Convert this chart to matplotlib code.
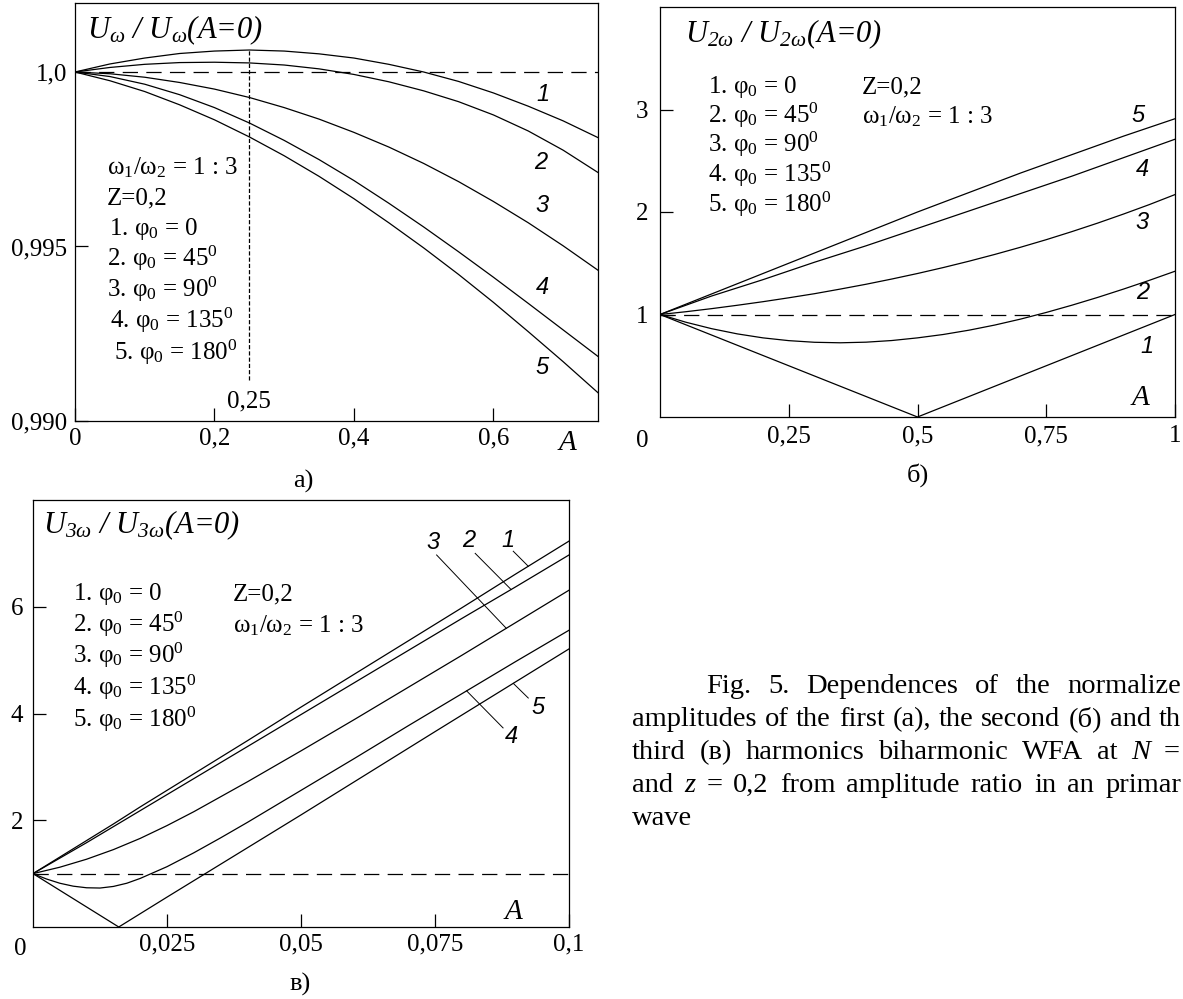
import numpy as np
import matplotlib
matplotlib.use('Agg')
import matplotlib.pyplot as plt

W, H = 1183, 999

plt.rcParams['font.family'] = ['Liberation Serif', 'DejaVu Serif']
plt.rcParams['mathtext.default'] = 'regular'
plt.rcParams['lines.scale_dashes'] = False

# ---- data ----
# panel a: first harmonic, A = 0 .. 0.75
A_a = [0, 0.05, 0.1, 0.15, 0.2, 0.25, 0.3, 0.35, 0.4, 0.45, 0.5, 0.55, 0.6, 0.65, 0.7, 0.75]
a_1 = [1.0, 1.00023, 1.00040, 1.00053, 1.00060, 1.00063, 1.00060, 1.00052, 1.00040, 1.00022,
       1.00000, 0.99973, 0.99940, 0.99902, 0.99860, 0.99812]
a_2 = [1.0, 1.00013, 1.00022, 1.00027, 1.00028, 1.00026, 1.00020, 1.00009, 0.99993, 0.99972,
       0.99946, 0.99915, 0.99877, 0.99831, 0.99776, 0.99712]
a_3 = [1.0, 0.99995, 0.99985, 0.99970, 0.99951, 0.99927, 0.99898, 0.99865, 0.99827, 0.99785,
       0.99738, 0.99686, 0.99629, 0.99568, 0.99502, 0.99432]
a_4 = [1.0, 0.99987, 0.99965, 0.99935, 0.99898, 0.99854, 0.99804, 0.99749, 0.99689, 0.99624,
       0.99556, 0.99485, 0.99412, 0.99337, 0.99261, 0.99185]
a_5 = [1.0, 0.99975, 0.99944, 0.99906, 0.99863, 0.99814, 0.99760, 0.99701, 0.99637, 0.99568,
       0.99496, 0.99420, 0.99340, 0.99256, 0.99170, 0.99081]

# panel b: second harmonic, A = 0 .. 1
A_b = [0, 0.05, 0.1, 0.15, 0.2, 0.25, 0.3, 0.35, 0.4, 0.45, 0.5,
       0.55, 0.6, 0.65, 0.7, 0.75, 0.8, 0.85, 0.9, 0.95, 1.0]
A_b_lin = [0, 0.1, 0.2, 0.3, 0.4, 0.5, 0.6, 0.7, 0.8, 0.9, 1.0]
b_1 = [1.0, 0.8, 0.6, 0.4, 0.2, 0.0, 0.2, 0.4, 0.6, 0.8, 1.0]
b_2 = [1.0, 0.925, 0.862, 0.811, 0.772, 0.745, 0.729, 0.724, 0.730, 0.746, 0.772,
       0.805, 0.847, 0.897, 0.955, 1.020, 1.091, 1.167, 1.248, 1.333, 1.422]
b_3 = [1.0, 1.027, 1.057, 1.090, 1.125, 1.163, 1.203, 1.248, 1.295, 1.346, 1.400,
       1.458, 1.520, 1.586, 1.656, 1.730, 1.809, 1.892, 1.980, 2.072, 2.170]
b_4 = [1.0, 1.18, 1.34, 1.51, 1.67, 1.84, 2.01, 2.18, 2.35, 2.53, 2.71]
b_5 = [1.0, 1.20, 1.40, 1.60, 1.80, 2.00, 2.19, 2.38, 2.56, 2.74, 2.91]

# panel c: third harmonic, A = 0 .. 0.1
A_c = [0, 0.005, 0.01, 0.015, 0.02, 0.025, 0.03, 0.04, 0.05, 0.06, 0.07, 0.08, 0.09, 0.1]
c_1 = [1.0, 1.31, 1.62, 1.93, 2.25, 2.56, 2.87, 3.49, 4.12, 4.74, 5.36, 5.98, 6.61, 7.23]
c_2 = [1.0, 1.29, 1.58, 1.88, 2.18, 2.48, 2.78, 3.38, 3.98, 4.58, 5.18, 5.78, 6.37, 6.97]
c_3 = [1.0, 1.12, 1.27, 1.45, 1.66, 1.90, 2.16, 2.72, 3.30, 3.89, 4.49, 5.09, 5.70, 6.31]
A_c4 = [0, 0.0025, 0.005, 0.0075, 0.01, 0.0125, 0.015, 0.0175, 0.02, 0.025, 0.03, 0.035,
        0.04, 0.05, 0.06, 0.07, 0.08, 0.09, 0.1]
c_4 = [1.0, 0.90, 0.82, 0.765, 0.735, 0.73, 0.76, 0.82, 0.91, 1.13, 1.39, 1.67,
       1.96, 2.56, 3.16, 3.77, 4.37, 4.97, 5.56]
A_c5 = [0, 0.008, 0.016, 0.025, 0.05, 0.075, 0.1]
c_5 = [1.0, 0.5, 0.0, 0.56, 2.10, 3.66, 5.21]

curve_names = ['1', '2', '3', '4', '5']
phi_labels = ['1. φ$_0$ = 0', '2. φ$_0$ = 45$^0$', '3. φ$_0$ = 90$^0$',
              '4. φ$_0$ = 135$^0$', '5. φ$_0$ = 180$^0$']
ratio_label = 'ω$_1$/ω$_2$ = 1 : 3'
z_label = 'Z=0,2'

# caption as it shows in the picture (right side is cut by the page edge)
caption = [
    ['Fig.', '5.', 'Dependences', 'of', 'the', 'normalize'],
    ['amplitudes', 'of', 'the', 'first', '(а),', 'the', 'second', '(б)', 'and', 'th'],
    ['third', '(в)', 'harmonics', 'biharmonic', 'WFA', 'at', 'N', '='],
    ['and', 'z', '=', '0,2', 'from', 'amplitude', 'ratio', 'in', 'an', 'primar'],
    ['wave'],
]

# ---- figure ----
fig = plt.figure(figsize=(W / 100, H / 100), dpi=100)


def box(l, r, t, b):
    return [l / W, 1 - b / H, (r - l) / W, (b - t) / H]


def ftext(x, y, s, **kw):
    kw.setdefault('fontsize', 18)
    return fig.text(x / W, 1 - y / H, s, **kw)


LW = 0.9
dash_long = (0, (11, 6))


def style_axes(ax, pad_x, pad_y):
    for sp in ax.spines.values():
        sp.set_linewidth(LW)
    ax.tick_params(direction='in', length=9.5, width=LW, labelsize=18,
                   top=False, right=False)
    ax.tick_params(axis='x', pad=pad_x)
    ax.tick_params(axis='y', pad=pad_y)


lab_font = dict(family='Liberation Sans', style='italic', fontsize=17,
                ha='center', va='center')

# ---------- panel a ----------
ax_a = fig.add_axes(box(75, 598, 3, 421))
for y in [a_1, a_2, a_3, a_4, a_5]:
    ax_a.plot(A_a, y, color='black', lw=LW)
ax_a.plot([0, 0.75], [1.0, 1.0], color='black', lw=LW, linestyle=dash_long)
ax_a.vlines(0.25, 0.99117, np.interp(0.25, A_a, a_1), color='black', lw=LW,
            linestyle=(0, (3, 1.5)))
ax_a.set_xlim(0, 0.75)
ax_a.set_ylim(0.990, 1.001977)
ax_a.set_xticks([0, 0.2, 0.4, 0.6])
ax_a.set_xticklabels(['0', '0,2', '0,4', '0,6'])
ax_a.set_yticks([0.990, 0.995, 1.0])
ax_a.set_yticklabels(['0,990', '0,995', '1,0'])
style_axes(ax_a, 5, 5.8)
pos_a = [(0.671, 0.999341), (0.668, 0.997393), (0.670, 0.996189), (0.670, 0.993811), (0.670, 0.991547)]
for n, (x, y) in zip(curve_names, pos_a):
    ax_a.text(x, y, n, **lab_font)
ftext(87, 38, 'U$_ω$ / U$_ω$(A=0)', style='italic', fontsize=22, va='baseline')
ftext(107, 174, ratio_label, va='baseline')
ftext(107, 204, z_label, va='baseline')
for s, x, y in zip(phi_labels, [109, 107, 107, 110, 114], [235, 266, 297, 328, 360]):
    ftext(x, y, s, va='baseline')
ftext(249, 407, '0,25', ha='center', va='baseline')
ftext(567, 443, 'A', style='italic', fontsize=21, ha='center', va='center')
ftext(303, 481, 'а)', fontsize=19, ha='center', va='center')

# ---------- panel b ----------
ax_b = fig.add_axes(box(660, 1175, 7, 417))
ax_b.plot(A_b_lin, b_1, color='black', lw=LW)
ax_b.plot(A_b, b_2, color='black', lw=LW)
ax_b.plot(A_b, b_3, color='black', lw=LW)
ax_b.plot(A_b_lin, b_4, color='black', lw=LW)
ax_b.plot(A_b_lin, b_5, color='black', lw=LW)
ax_b.plot([0, 1], [1, 1], color='black', lw=LW, linestyle=dash_long)
ax_b.set_xlim(0, 1)
ax_b.set_ylim(0, 4)
ax_b.set_xticks([0.25, 0.5, 0.75, 1.0])
ax_b.set_xticklabels(['0,25', '0,5', '0,75', '1'])
ax_b.set_yticks([1, 2, 3])
ax_b.set_yticklabels(['1', '2', '3'])
style_axes(ax_b, 5.8, 8.6)
pos_b = [(0.946, 0.683), (0.938, 1.21), (0.936, 1.90), (0.936, 2.41), (0.928, 2.946)]
for n, (x, y) in zip(curve_names, pos_b):
    ax_b.text(x, y, n, **lab_font)
ftext(685, 42, 'U$_{2ω}$ / U$_{2ω}$(A=0)', style='italic', fontsize=22, va='baseline')
for s, y in zip(phi_labels, [93, 123, 152, 182, 212]):
    ftext(708, y, s, va='baseline')
ftext(862, 93, z_label, va='baseline')
ftext(862, 123, ratio_label, va='baseline')
ftext(1140, 398, 'A', style='italic', fontsize=21, ha='center', va='center')
ftext(642, 447, '0', ha='center', va='baseline')
ftext(918, 475, 'б)', fontsize=19, ha='center', va='center')

# ---------- panel c ----------
ax_c = fig.add_axes(box(33, 569, 500, 927))
curves_c = [(A_c, c_1), (A_c, c_2), (A_c, c_3), (A_c4, c_4), (A_c5, c_5)]
for xs, ys in curves_c:
    ax_c.plot(xs, ys, color='black', lw=LW)
ax_c.plot([0, 0.1], [1, 1], color='black', lw=LW, linestyle=dash_long)
ax_c.set_xlim(0, 0.1)
ax_c.set_ylim(0, 8)
ax_c.set_xticks([0.025, 0.05, 0.075, 0.1])
ax_c.set_xticklabels(['0,025', '0,05', '0,075', '0,1'])
ax_c.set_yticks([2, 4, 6])
ax_c.set_yticklabels(['2', '4', '6'])
style_axes(ax_c, 5, 7.2)
# labels with leader lines: (label pos, leader start, A where leader meets curve)
leaders_c = [
    ((0.0887, 7.25), (0.0896, 7.04), 0.0924),
    ((0.0812, 7.25), (0.0825, 7.00), 0.0892),
    ((0.0747, 7.21), (0.0753, 6.97), 0.0883),
    ((0.0892, 3.56), (0.0877, 3.73), 0.0809),
    ((0.0942, 4.12), (0.0924, 4.29), 0.0896),
]
for n, (lp, st, ae), (xs, ys) in zip(curve_names, leaders_c, curves_c):
    ax_c.text(lp[0], lp[1], n, **lab_font)
    ax_c.plot([st[0], ae], [st[1], np.interp(ae, xs, ys)], color='black', lw=0.7)
ftext(43, 533, 'U$_{3ω}$ / U$_{3ω}$(A=0)', style='italic', fontsize=22, va='baseline')
for s, y in zip(phi_labels, [600, 632, 663, 695, 727]):
    ftext(73, y, s, va='baseline')
ftext(233, 600, z_label, va='baseline')
ftext(233, 632, ratio_label, va='baseline')
ftext(513, 912, 'A', style='italic', fontsize=21, ha='center', va='center')
ftext(20, 955, '0', ha='center', va='baseline')
ftext(300, 984, 'в)', fontsize=19, ha='center', va='center')

# ---------- caption, justified lines ----------
renderer = fig.canvas.get_renderer()
line_geo = [(706, 1181, 693), (632, 1181, 726), (632, 1180, 759), (632, 1181, 792), (632, None, 825)]
for words, (x0, x1, yb) in zip(caption, line_geo):
    ts = []
    for w in words:
        st = 'italic' if w in ('N', 'z') else 'normal'
        ts.append(ftext(0, yb, w, fontsize=20.5, style=st, va='baseline'))
    widths = [t.get_window_extent(renderer).width for t in ts]
    if x1 is None or len(ts) == 1:
        gap = 7
    else:
        gap = (x1 - x0 - sum(widths)) / (len(ts) - 1)
    x = x0
    for t, w in zip(ts, widths):
        t.set_x(x / W)
        x += w + gap

fig.savefig('out.png', dpi=100)
